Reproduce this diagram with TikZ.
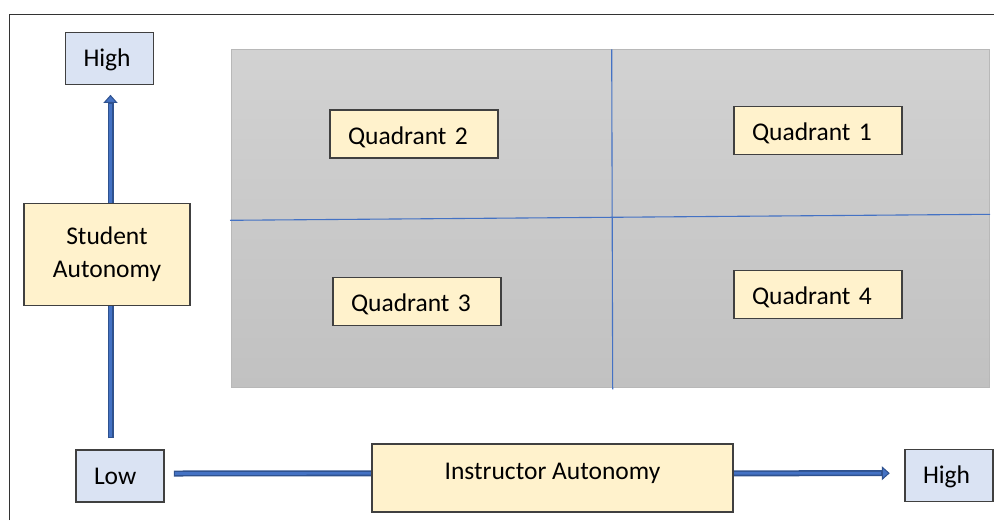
\documentclass[tikz,border=0pt]{standalone}
\usepackage{fontspec}
\setmainfont{Carlito}
\usetikzlibrary{arrows.meta}
\definecolor{boxblue}{HTML}{DAE3F3}
\definecolor{boxyel}{HTML}{FFF2CC}
\definecolor{arrdark}{HTML}{2F528F}
\definecolor{arrlight}{HTML}{4472C4}
\definecolor{gridblue}{HTML}{4472C4}
\definecolor{graytop}{HTML}{D2D2D2}
\definecolor{graybot}{HTML}{C1C1C1}
\definecolor{grayedge}{HTML}{B8B8B8}
\tikzset{
  bx/.style={draw=black!75, line width=1.1pt, inner sep=0pt,
    font=\fontsize{25.5}{33.3}\selectfont},
  bluebox/.style={bx, fill=boxblue, minimum height=52pt, text width=52pt,
    inner xsep=18pt, align=left, text height=17.4pt, text depth=1pt},
  quad/.style={bx, fill=boxyel, minimum height=48pt, text width=132pt,
    inner xsep=18pt, align=left, text height=21pt, text depth=1pt},
  arrout/.style={draw=arrdark, line width=6pt,
    -{Triangle[length=8pt,width=14pt,line width=1pt,fill=arrlight]}},
  arrin/.style={draw=arrlight, line width=2.6pt},
  frameline/.style={draw=black!80, line width=1.3pt},
  gridline/.style={draw=gridblue, line width=1.1pt}
}
\begin{document}
\begin{tikzpicture}[x=1pt,y=-1pt]
\useasboundingbox (0,0) rectangle (994,520);
% outer frame
\draw[frameline] (9.3,520) -- (9.3,14.7) -- (994,14.7);
% quadrant area
\shade[top color=graytop, bottom color=graybot, draw=grayedge, line width=1pt]
  (231,49.3) rectangle (989.5,387.7);
\coordinate (vt) at (611.7,49.3);
\coordinate (vb) at (612.7,389.3);
\coordinate (hl) at (230,220.3);
\coordinate (hr) at (990,214.3);
\draw[gridline] (vt) -- (vb);
\draw[gridline] (hl) -- (hr);
% quadrant labels
\node[quad] (q2) at (414,134) {Quadrant 2};
\node[quad] (q1) at (818,130.5) {Quadrant 1};
\node[quad] (q3) at (417,301.5) {Quadrant 3};
\node[quad] (q4) at (818,294.5) {Quadrant 4};
% end boxes
\node[bluebox] (hiT) at (109.5,58.3) {High};
\node[bluebox] (low) at (120,476) {Low};
\node[bluebox] (hiR) at (949,475.7) {High};
% arrows
\coordinate (vs) at (110.5,438.3);
\draw[arrout, shorten >=10pt] (vs) -- ([xshift=1pt]hiT.south);
\draw[arrin, shorten <=1.3pt, shorten >=19pt] (vs) -- ([xshift=1pt]hiT.south);
\draw[arrout, shorten <=9.3pt, shorten >=14.7pt] ([yshift=2.5pt]low.east) -- ([yshift=2.5pt]hiR.west);
\draw[arrin, shorten <=10.6pt, shorten >=23.5pt] ([yshift=2.5pt]low.east) -- ([yshift=2.5pt]hiR.west);
% axis labels
\node[bx, fill=boxyel, minimum width=166pt, minimum height=101.7pt, align=center] (sa) at (107,254.2) {Student\\Autonomy};
\node[bx, fill=boxyel, minimum width=361pt, minimum height=68pt, text height=18pt, text depth=14.6pt] (ia) at (552.5,478) {Instructor Autonomy};
\end{tikzpicture}
\end{document}
